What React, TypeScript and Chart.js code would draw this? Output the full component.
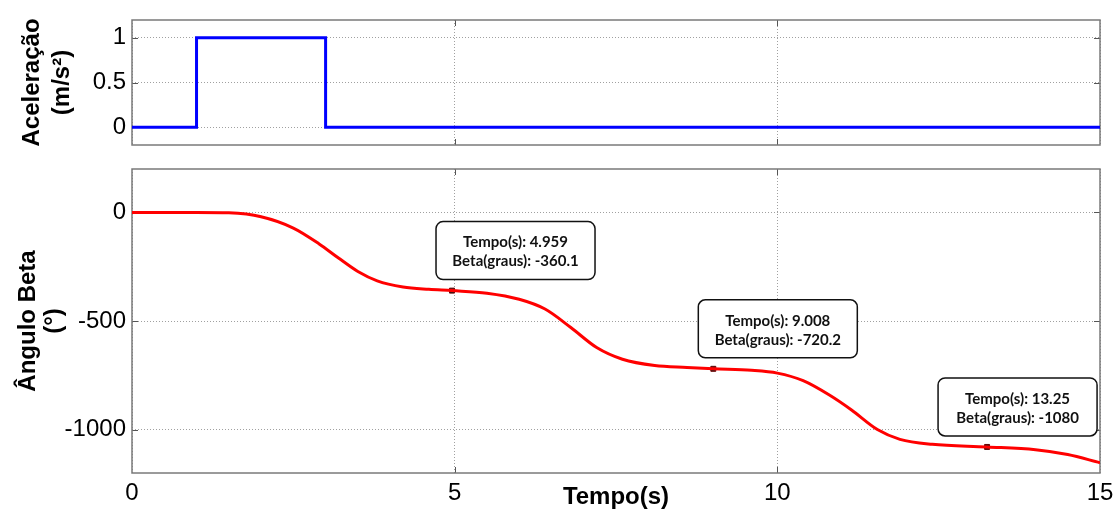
import React, { useEffect, useRef } from "react";
import { Chart, registerables } from "chart.js";

Chart.register(...registerables);

// ---- Data ----
const accelTime = [0, 1, 1, 3, 3, 15];
const accelValue = [0, 0, 1, 1, 0, 0];

const betaTime = [0, 1.0, 1.5, 2.0, 2.5, 2.9, 3.2, 3.5, 3.8, 4.2, 4.6, 4.959, 5.5, 6.0, 6.4, 6.8, 7.2, 7.6, 8.1, 8.6, 9.008, 9.6, 10.0, 10.4, 10.8, 11.15, 11.55, 11.9, 12.4, 13.25, 14.0, 14.5, 15.0];
const betaValue = [0, 0, -2, -20, -72, -145, -210, -272, -315, -343, -354, -360.1, -372, -400, -445, -530, -622, -676, -705, -714, -720.2, -727, -740, -775, -840, -910, -1000, -1045, -1068, -1080, -1093, -1115, -1153];

const markerTime = [4.959, 9.008, 13.25];
const markerValue = [-360.1, -720.2, -1080];
const markerTempoLabel = ["4.959", "9.008", "13.25"];
const markerBetaLabel = ["-360.1", "-720.2", "-1080"];

const xTicks = [0, 5, 10, 15];
const accelTicks = [0, 0.5, 1];
const betaTicks = [-1000, -500, 0];

// ---- Layout constants ----
const PLOT_LEFT = 132;
const RIGHT_PAD = 18;
const BOX_W = 159;
const BOX_H = 58;
const BOX_SHIFT_X = [16, 15, 49];
const BOX_GAP_Y = 11;

const TICK_FONT = { family: "'Liberation Sans', Arial, sans-serif", size: 24 };
const TITLE_FONT_FAMILY = "'Liberation Sans', Arial, sans-serif";

function toPoints(xs: number[], ys: number[]) {
  return xs.map((x, i) => ({ x, y: ys[i] }));
}

const framePlugin = {
  id: "frame",
  beforeDatasetsDraw(chart: any) {
    const { ctx, chartArea: a, scales } = chart;
    ctx.save();
    ctx.strokeStyle = "#555";
    ctx.lineWidth = 1;
    const tl = 6;
    ctx.beginPath();
    xTicks.forEach((v) => {
      if (v === 0 || v === 15) return;
      const px = Math.round(scales.x.getPixelForValue(v)) + 0.5;
      ctx.moveTo(px, a.bottom);
      ctx.lineTo(px, a.bottom - tl);
      ctx.moveTo(px, a.top);
      ctx.lineTo(px, a.top + tl);
    });
    const yt = chart.options.plugins.frame.yTicks as number[];
    yt.forEach((v) => {
      const py = Math.round(scales.y.getPixelForValue(v)) + 0.5;
      ctx.moveTo(a.left, py);
      ctx.lineTo(a.left + tl, py);
      ctx.moveTo(a.right, py);
      ctx.lineTo(a.right - tl, py);
    });
    ctx.stroke();
    ctx.strokeStyle = "#7a7a7a";
    ctx.lineWidth = 1.5;
    ctx.strokeRect(a.left, a.top, a.right - a.left, a.bottom - a.top);
    ctx.restore();
  },
};

const annotationPlugin = {
  id: "dataTips",
  afterDatasetsDraw(chart: any) {
    if (!chart.options.plugins.dataTips.enabled) return;
    const { ctx, scales } = chart;
    ctx.save();
    markerTime.forEach((t, i) => {
      const mx = scales.x.getPixelForValue(t);
      const my = scales.y.getPixelForValue(markerValue[i]);
      const bx = mx - BOX_SHIFT_X[i];
      const by = my - BOX_GAP_Y - BOX_H;
      ctx.beginPath();
      ctx.roundRect(bx, by, BOX_W, BOX_H, 7);
      ctx.fillStyle = "#fff";
      ctx.fill();
      ctx.strokeStyle = "#111";
      ctx.lineWidth = 1.5;
      ctx.stroke();
      ctx.fillStyle = "#111";
      ctx.font = "bold 15px Lato, 'Open Sans', sans-serif";
      ctx.textAlign = "center";
      ctx.textBaseline = "middle";
      ctx.fillText("Tempo(s): " + markerTempoLabel[i], bx + BOX_W / 2, by + 21);
      ctx.fillText("Beta(graus): " + markerBetaLabel[i], bx + BOX_W / 2, by + 40);
    });
    ctx.restore();
  },
};

const gridCfg = { color: "#a0a0a0", lineWidth: 1, drawTicks: false };
const borderCfg = { display: false, dash: [1, 2] };

const noPadY = (w: number) => (s: any) => {
  s.width = w;
  s.paddingTop = 0;
  s.paddingBottom = 0;
};
const noPadX = (h: number) => (s: any) => {
  s.height = h;
  s.paddingLeft = 0;
  s.paddingRight = 0;
};

export default function App() {
  const topRef = useRef<HTMLCanvasElement>(null);
  const botRef = useRef<HTMLCanvasElement>(null);

  useEffect(() => {
    const top = new Chart(topRef.current!, {
      type: "line",
      data: {
        datasets: [
          {
            data: toPoints(accelTime, accelValue),
            borderColor: "#0000ff",
            borderWidth: 3,
            pointRadius: 0,
            tension: 0,
          },
        ],
      },
      options: {
        animation: false,
        responsive: false,
        events: [],
        layout: { padding: { top: 20, right: RIGHT_PAD, bottom: 0, left: 0 } },
        plugins: {
          legend: { display: false },
          tooltip: { enabled: false },
          frame: { yTicks: accelTicks },
          dataTips: { enabled: false },
        } as any,
        scales: {
          x: {
            type: "linear",
            min: 0,
            max: 15,
            afterBuildTicks: (s: any) => { s.ticks = xTicks.map((v) => ({ value: v })); },
            afterFit: noPadX(15),
            ticks: { display: false },
            grid: gridCfg,
            border: borderCfg,
          },
          y: {
            type: "linear",
            min: -0.2,
            max: 1.2,
            afterBuildTicks: (s: any) => { s.ticks = accelTicks.map((v) => ({ value: v })); },
            afterFit: noPadY(PLOT_LEFT),
            ticks: { color: "#000", font: TICK_FONT, padding: 6, callback: (v: any) => String(v) },
            grid: gridCfg,
            border: borderCfg,
            title: {
              display: true,
              text: ["Aceleração", "(m/s²)"],
              color: "#000",
              font: { family: TITLE_FONT_FAMILY, size: 24, weight: "bold", lineHeight: 1.25 },
              padding: { top: 17, bottom: 0 },
            },
          },
        },
      },
      plugins: [framePlugin, annotationPlugin],
    });

    const bot = new Chart(botRef.current!, {
      type: "line",
      data: {
        datasets: [
          {
            data: toPoints(betaTime, betaValue),
            borderColor: "#ff0000",
            borderWidth: 3,
            pointRadius: 0,
            cubicInterpolationMode: "monotone",
          },
          {
            data: toPoints(markerTime, markerValue),
            showLine: false,
            pointStyle: "rect",
            pointRadius: 3.5,
            pointBackgroundColor: "#222",
            pointBorderColor: "#600",
            pointBorderWidth: 1,
          },
        ],
      },
      options: {
        animation: false,
        responsive: false,
        events: [],
        layout: { padding: { top: 9, right: RIGHT_PAD, bottom: 0, left: 0 } },
        plugins: {
          legend: { display: false },
          tooltip: { enabled: false },
          frame: { yTicks: betaTicks },
          dataTips: { enabled: true },
        } as any,
        scales: {
          x: {
            type: "linear",
            min: 0,
            max: 15,
            afterBuildTicks: (s: any) => { s.ticks = xTicks.map((v) => ({ value: v })); },
            afterFit: noPadX(42),
            ticks: { color: "#000", font: TICK_FONT, padding: 6, maxRotation: 0, callback: (v: any) => String(v) },
            grid: gridCfg,
            border: borderCfg,
            title: {
              display: true,
              text: "Tempo(s)",
              color: "#000",
              font: { family: TITLE_FONT_FAMILY, size: 24, weight: "bold", lineHeight: 1.2 },
              padding: { top: 0, bottom: 3 },
            },
          },
          y: {
            type: "linear",
            min: -1200,
            max: 200,
            afterBuildTicks: (s: any) => { s.ticks = betaTicks.map((v) => ({ value: v })); },
            afterFit: noPadY(PLOT_LEFT),
            ticks: { color: "#000", font: TICK_FONT, padding: 6, callback: (v: any) => String(v) },
            grid: gridCfg,
            border: borderCfg,
            title: {
              display: true,
              text: ["Ângulo Beta", "(°)"],
              color: "#000",
              font: { family: TITLE_FONT_FAMILY, size: 24, weight: "bold", lineHeight: 1.1 },
              padding: { top: 15, bottom: 0 },
            },
          },
        },
      },
      plugins: [framePlugin, annotationPlugin],
    });

    return () => {
      top.destroy();
      bot.destroy();
    };
  }, []);

  return (
    <div style={{ position: "absolute", left: 0, top: 0, width: 1118, height: 515, background: "#fff" }}>
      <canvas ref={topRef} width={1118} height={160} style={{ display: "block", width: 1118, height: 160 }} />
      <canvas ref={botRef} width={1118} height={355} style={{ display: "block", width: 1118, height: 355 }} />
    </div>
  );
}
